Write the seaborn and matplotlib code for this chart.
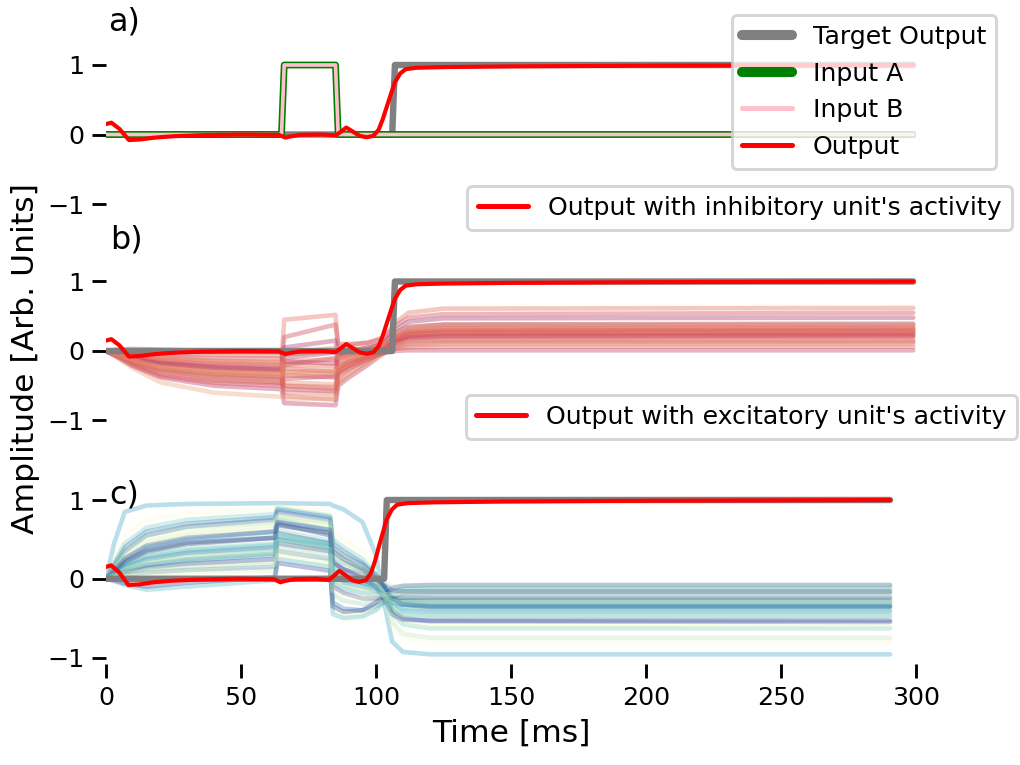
import matplotlib
matplotlib.use("Agg")
import matplotlib.pyplot as plt
import seaborn as sns
import pandas as pd
from matplotlib.lines import Line2D

# ------------------------------------------------------------------ data
# time grids (ms, read against the shared time axis)
time_ab = [0, 4, 10, 20, 40, 65, 66, 85, 86, 90, 97, 103, 107, 112, 125, 299]
time_c = [0, 3, 7, 15, 30, 62.5, 63.5, 83, 84, 88, 95, 100, 103, 106, 110, 120, 290.4]

# network output (same trial, shown in every panel)
out_t_ab = [0, 2, 5, 8.5, 13, 18, 25, 35, 50, 64, 66.5, 68, 72, 80, 85, 87, 89, 91.5, 94,
            96.5, 99, 101, 102.5, 104, 105.5, 107, 109, 111, 115, 125, 150, 200, 299]
out_t_c = [0, 1.9, 4.9, 8.3, 12.6, 17.5, 24.3, 34.0, 48.6, 62.2, 64.6, 66.0, 69.9, 77.7, 82.6,
           84.5, 86.4, 88.9, 91.3, 93.7, 96.2, 98.1, 99.6, 101.0, 102.5, 103.9, 105.9, 107.8,
           111.7, 121.4, 145.7, 194.2, 290.4]
out_v = [0.15, 0.17, 0.08, -0.08, -0.07, -0.045, -0.025, -0.01, 0.0, -0.005, -0.045, -0.03,
         -0.005, 0.0, -0.015, 0.04, 0.10, 0.04, -0.02, -0.04, -0.02, 0.07, 0.22, 0.40, 0.58,
         0.75, 0.88, 0.94, 0.96, 0.97, 0.98, 0.99, 1.0]

# target output
target_t_ab = [0, 106, 107, 299]
target_t_c = [0, 103, 104, 290.4]
target_v = [0, 0, 1, 1]

# inputs
input_t = [0, 65, 66, 85, 86, 299]
input_a = [0, 0, 1, 1, 0, 0]
input_b = [0, 0, 1, 1, 0, 0]

# inhibitory unit activities (values at time_ab)
inhib_units = [
    [0, -0.02, -0.06, -0.10, -0.14, -0.16, 0.45, 0.52, 0.05, 0.08, 0.12, 0.20, 0.40, 0.55, 0.61, 0.62],
    [0, -0.03, -0.08, -0.14, -0.19, -0.22, 0.20, 0.38, 0.10, 0.10, 0.12, 0.18, 0.36, 0.48, 0.53, 0.55],
    [0, -0.05, -0.13, -0.22, -0.30, -0.34, -0.10, -0.02, -0.10, -0.05, 0.02, 0.12, 0.30, 0.42, 0.47, 0.48],
    [0, -0.04, -0.10, -0.17, -0.24, -0.28, -0.50, -0.55, -0.30, -0.20, -0.08, 0.05, 0.22, 0.33, 0.38, 0.40],
    [0, -0.06, -0.17, -0.30, -0.40, -0.45, -0.65, -0.70, -0.45, -0.32, -0.15, 0.02, 0.18, 0.28, 0.32, 0.33],
    [0, -0.08, -0.22, -0.38, -0.50, -0.55, -0.75, -0.78, -0.50, -0.38, -0.20, -0.02, 0.12, 0.22, 0.26, 0.27],
    [0, -0.05, -0.14, -0.25, -0.33, -0.38, -0.30, -0.28, -0.20, -0.12, -0.02, 0.08, 0.22, 0.30, 0.33, 0.34],
    [0, -0.03, -0.08, -0.13, -0.17, -0.19, -0.05, 0.00, -0.05, 0.00, 0.05, 0.10, 0.20, 0.26, 0.29, 0.30],
    [0, -0.07, -0.19, -0.33, -0.43, -0.47, -0.40, -0.36, -0.30, -0.22, -0.10, 0.00, 0.10, 0.17, 0.20, 0.21],
    [0, -0.09, -0.25, -0.45, -0.60, -0.66, -0.70, -0.68, -0.45, -0.35, -0.18, -0.04, 0.08, 0.14, 0.16, 0.16],
    [0, -0.04, -0.11, -0.19, -0.26, -0.29, -0.15, -0.12, -0.15, -0.08, 0.00, 0.07, 0.15, 0.22, 0.25, 0.25],
    [0, -0.02, -0.05, -0.08, -0.10, -0.11, -0.25, -0.30, -0.12, -0.06, 0.00, 0.05, 0.12, 0.18, 0.20, 0.20],
    [0, -0.06, -0.16, -0.28, -0.37, -0.41, -0.55, -0.58, -0.35, -0.25, -0.12, -0.02, 0.06, 0.11, 0.13, 0.13],
    [0, -0.05, -0.12, -0.21, -0.28, -0.31, -0.45, -0.48, -0.28, -0.20, -0.10, -0.01, 0.04, 0.08, 0.10, 0.10],
    [0, -0.01, -0.03, -0.05, -0.06, -0.07, -0.20, -0.22, -0.08, -0.05, -0.02, 0.01, 0.03, 0.05, 0.06, 0.06],
    [0, -0.03, -0.09, -0.16, -0.22, -0.25, -0.35, -0.38, -0.22, -0.15, -0.08, -0.03, 0.00, 0.01, 0.01, 0.01],
    [0, -0.07, -0.18, -0.31, -0.40, -0.44, -0.35, -0.30, -0.25, -0.16, -0.06, 0.05, 0.18, 0.26, 0.29, 0.30],
    [0, -0.05, -0.14, -0.24, -0.32, -0.36, -0.60, -0.62, -0.38, -0.26, -0.12, 0.00, 0.15, 0.24, 0.27, 0.28],
    [0, -0.08, -0.21, -0.36, -0.46, -0.50, -0.20, -0.10, -0.25, -0.15, -0.05, 0.06, 0.20, 0.28, 0.31, 0.32],
    [0, -0.04, -0.10, -0.18, -0.24, -0.27, 0.05, 0.15, -0.05, 0.00, 0.05, 0.12, 0.26, 0.35, 0.38, 0.38],
    [0, -0.02, -0.06, -0.11, -0.15, -0.17, -0.30, -0.33, -0.18, -0.10, -0.04, 0.03, 0.10, 0.14, 0.15, 0.15],
    [0, -0.06, -0.15, -0.26, -0.34, -0.38, -0.50, -0.52, -0.30, -0.20, -0.08, 0.03, 0.16, 0.24, 0.26, 0.26],
    [0, 0.02, 0.03, 0.02, 0.00, -0.01, -0.15, -0.18, -0.05, -0.02, 0.02, 0.06, 0.14, 0.20, 0.22, 0.23],
    [0, -0.05, -0.13, -0.23, -0.31, -0.35, -0.05, 0.05, -0.10, -0.05, 0.02, 0.10, 0.25, 0.34, 0.36, 0.37],
]

# excitatory unit activities (values at time_c)
excit_units = [
    [0, 0.45, 0.85, 0.93, 0.95, 0.96, 0.96, 0.95, 0.93, 0.88, 0.72, 0.30, -0.30, -0.80, -0.93, -0.96, -0.96],
    [0, 0.25, 0.55, 0.75, 0.83, 0.88, 0.92, 0.85, 0.60, 0.50, 0.35, 0.10, -0.20, -0.60, -0.75, -0.80, -0.80],
    [0, 0.20, 0.45, 0.65, 0.75, 0.82, 0.90, 0.80, 0.50, 0.40, 0.25, 0.05, -0.15, -0.45, -0.58, -0.63, -0.63],
    [0, 0.15, 0.35, 0.55, 0.66, 0.75, 0.85, 0.75, 0.40, 0.30, 0.18, 0.02, -0.15, -0.40, -0.50, -0.54, -0.55],
    [0, 0.12, 0.30, 0.48, 0.58, 0.68, 0.80, 0.70, 0.35, 0.25, 0.12, 0.00, -0.12, -0.35, -0.45, -0.48, -0.48],
    [0, 0.10, 0.25, 0.40, 0.50, 0.60, 0.75, 0.62, 0.28, 0.20, 0.10, 0.00, -0.10, -0.30, -0.40, -0.42, -0.42],
    [0, 0.08, 0.20, 0.34, 0.44, 0.52, 0.70, 0.55, 0.20, 0.12, 0.05, -0.02, -0.10, -0.25, -0.33, -0.36, -0.36],
    [0, 0.07, 0.18, 0.30, 0.38, 0.45, 0.62, 0.48, 0.10, 0.05, 0.00, -0.05, -0.12, -0.25, -0.30, -0.32, -0.32],
    [0, 0.06, 0.15, 0.25, 0.33, 0.40, 0.58, 0.45, 0.05, -0.02, -0.05, -0.08, -0.15, -0.25, -0.29, -0.30, -0.30],
    [0, 0.05, 0.12, 0.21, 0.28, 0.35, 0.55, 0.42, 0.00, -0.08, -0.12, -0.15, -0.18, -0.26, -0.28, -0.29, -0.29],
    [0, 0.05, 0.10, 0.17, 0.23, 0.30, 0.50, 0.38, -0.05, -0.12, -0.18, -0.20, -0.22, -0.26, -0.27, -0.27, -0.27],
    [0, 0.04, 0.08, 0.14, 0.19, 0.25, 0.45, 0.35, -0.10, -0.18, -0.25, -0.25, -0.24, -0.24, -0.24, -0.24, -0.24],
    [0, 0.03, 0.07, 0.11, 0.15, 0.20, 0.40, 0.30, -0.20, -0.28, -0.32, -0.30, -0.28, -0.25, -0.22, -0.21, -0.21],
    [0, 0.02, 0.05, 0.08, 0.11, 0.15, 0.35, 0.25, -0.30, -0.38, -0.40, -0.35, -0.30, -0.22, -0.19, -0.18, -0.18],
    [0, 0.02, 0.03, 0.05, 0.08, 0.10, 0.30, 0.20, -0.40, -0.45, -0.45, -0.38, -0.30, -0.20, -0.16, -0.15, -0.15],
    [0, -0.03, -0.08, -0.14, -0.10, -0.02, 0.25, 0.15, -0.45, -0.50, -0.48, -0.40, -0.30, -0.18, -0.13, -0.12, -0.12],
    [0, -0.02, -0.06, -0.10, -0.05, 0.02, 0.20, 0.10, -0.35, -0.42, -0.40, -0.30, -0.22, -0.12, -0.09, -0.08, -0.08],
    [0, 0.10, 0.22, 0.36, 0.45, 0.55, 0.68, 0.58, 0.30, 0.20, 0.10, 0.00, -0.05, -0.10, -0.10, -0.10, -0.10],
    [0, 0.18, 0.40, 0.60, 0.70, 0.78, 0.88, 0.78, 0.45, 0.35, 0.20, 0.05, -0.10, -0.25, -0.32, -0.35, -0.35],
    [0, 0.12, 0.28, 0.45, 0.55, 0.63, 0.78, 0.65, 0.30, 0.20, 0.08, -0.05, -0.20, -0.40, -0.55, -0.60, -0.60],
    [0, 0.07, 0.17, 0.28, 0.36, 0.43, 0.55, 0.45, 0.15, 0.05, -0.05, -0.12, -0.25, -0.40, -0.45, -0.47, -0.47],
    [0, 0.09, 0.22, 0.36, 0.46, 0.52, 0.68, 0.58, 0.22, 0.12, 0.00, -0.10, -0.25, -0.45, -0.52, -0.53, -0.53],
    [0, 0.15, 0.35, 0.55, 0.65, 0.72, 0.80, 0.72, 0.42, 0.30, 0.15, 0.00, -0.20, -0.55, -0.70, -0.75, -0.75],
    [0, 0.04, 0.10, 0.18, 0.25, 0.32, 0.50, 0.40, 0.05, -0.05, -0.10, -0.15, -0.20, -0.30, -0.33, -0.34, -0.34],
    [0, 0.03, 0.06, 0.10, 0.14, 0.18, 0.35, 0.28, -0.15, -0.22, -0.25, -0.22, -0.20, -0.19, -0.19, -0.19, -0.19],
    [0, 0.06, 0.14, 0.24, 0.32, 0.38, 0.52, 0.42, 0.10, 0.02, -0.05, -0.10, -0.20, -0.35, -0.38, -0.40, -0.40],
    [0, 0.11, 0.26, 0.42, 0.52, 0.60, 0.72, 0.62, 0.35, 0.25, 0.12, 0.00, -0.08, -0.15, -0.16, -0.16, -0.16],
    [0, 0.05, 0.11, 0.19, 0.26, 0.33, 0.48, 0.38, 0.00, -0.10, -0.15, -0.18, -0.22, -0.28, -0.30, -0.30, -0.30],
]

panel_letters = ["a)", "b)", "c)"]
legend_a_labels = ["Target Output", "Input A", "Input B", "Output"]
legend_b_label = "Output with inhibitory unit's activity"
legend_c_label = "Output with excitatory unit's activity"
x_ticks = [0, 50, 100, 150, 200, 250, 300]
y_ticks = [-1, 0, 1]

# ------------------------------------------------------------------ style
sns.set_theme(style="ticks", context="notebook")
plt.rcParams["font.family"] = ["DejaVu Sans"]
for key in ("text.color", "axes.labelcolor", "xtick.color", "ytick.color"):
    plt.rcParams[key] = "black"

W, H, DPI = 1020, 765, 165
fig = plt.figure(figsize=(W / DPI, H / DPI), dpi=DPI)

LEFT, RIGHT = 106, 916


def px_axes(top, bottom):
    return fig.add_axes([LEFT / W, 1 - bottom / H, (RIGHT - LEFT) / W, (bottom - top) / H])


def set_ylim_px(ax, top, bottom, py_one, py_minus_one):
    scale = (py_minus_one - py_one) / 2.0
    ax.set_ylim(-1 - (bottom - py_minus_one) / scale, 1 + (py_one - top) / scale)


def long_form(times, units):
    rows = []
    for i, vals in enumerate(units):
        for t, v in zip(times, vals):
            rows.append({"time": t, "value": v, "unit": f"u{i:02d}"})
    return pd.DataFrame(rows)


def mixed_palette(base, step, offset):
    n = len(base)
    return [base[(i * step + offset) % n] for i in range(n)]


def draw_line(ax, x, y, color, lw, z=3):
    sns.lineplot(x=x, y=y, ax=ax, color=color, lw=lw, sort=False, estimator=None,
                 legend=False, zorder=z)


GRAY, RED = "#808080", "red"
LW_TARGET, LW_OUT = 2.8, 1.8

ax_a = px_axes(0, 215)
ax_b = px_axes(215, 440)
ax_c = px_axes(440, 664)
set_ylim_px(ax_a, 0, 215, 65, 204)
set_ylim_px(ax_b, 215, 440, 281.5, 420.5)
set_ylim_px(ax_c, 440, 664, 500, 657.5)

# ---- panel a
draw_line(ax_a, target_t_ab, target_v, GRAY, LW_TARGET, 2)
draw_line(ax_a, input_t, input_a, "green", 3.0, 3)
draw_line(ax_a, input_t, input_b, "pink", 1.6, 4)
draw_line(ax_a, out_t_ab, out_v, RED, LW_OUT, 5)
handles_a = [Line2D([], [], color=GRAY, lw=4.4), Line2D([], [], color="green", lw=4.4),
             Line2D([], [], color="pink", lw=2.2), Line2D([], [], color=RED, lw=2.2)]
leg_a = ax_a.legend(handles_a, legend_a_labels, loc="upper right",
                    bbox_to_anchor=(996 / W, 1 - 15 / H), bbox_transform=fig.transFigure,
                    borderaxespad=0, fontsize=11, framealpha=0.8)

# ---- panel b
df_b = long_form(time_ab, inhib_units)
n_b = len(inhib_units)
pal_b = mixed_palette(sns.color_palette("flare", int(n_b * 1.7))[:n_b], 7, 9)
sns.lineplot(data=df_b, x="time", y="value", hue="unit", palette=pal_b, ax=ax_b,
             lw=2, alpha=0.4, sort=False, estimator=None, legend=False, zorder=1)
draw_line(ax_b, target_t_ab, target_v, GRAY, LW_TARGET, 2)
draw_line(ax_b, out_t_ab, out_v, RED, LW_OUT, 5)
leg_b = ax_b.legend([Line2D([], [], color=RED, lw=2.2)], [legend_b_label], loc="upper right",
                    bbox_to_anchor=(1012 / W, 1 - 186 / H), bbox_transform=fig.transFigure,
                    borderaxespad=0, fontsize=11, framealpha=0.8)

# ---- panel c
df_c = long_form(time_c, excit_units)
pal_c = mixed_palette(sns.color_palette("YlGnBu", len(excit_units)), 11, 17)
sns.lineplot(data=df_c, x="time", y="value", hue="unit", palette=pal_c, ax=ax_c,
             lw=2, alpha=0.3, sort=False, estimator=None, legend=False, zorder=1)
draw_line(ax_c, target_t_c, target_v, GRAY, LW_TARGET, 2)
draw_line(ax_c, out_t_c, out_v, RED, LW_OUT, 5)
leg_c = ax_c.legend([Line2D([], [], color=RED, lw=2.2)], [legend_c_label], loc="upper right",
                    bbox_to_anchor=(1017 / W, 1 - 395 / H), bbox_transform=fig.transFigure,
                    borderaxespad=0, fontsize=11, framealpha=0.8)

for leg in (leg_a, leg_b, leg_c):
    leg.get_frame().set_linewidth(1.3)
    leg.set_zorder(20)

for ax in (ax_a, ax_b, ax_c):
    ax.set_xlim(0, 300)
    ax.set_yticks(y_ticks)
    ax.set_xlabel("")
    ax.set_ylabel("")
    ax.patch.set_alpha(0)
    sns.despine(ax=ax, left=True, bottom=True)
for ax in (ax_a, ax_b):
    ax.tick_params(axis="x", bottom=False, labelbottom=False)
ax_c.set_xticks(x_ticks)
ax_c.set_xlabel("Time [ms]", fontsize=13.7, labelpad=4)

fig.text(26 / W, 1 - 358 / H, "Amplitude [Arb. Units]", rotation=90, ha="center",
         va="center", fontsize=13.7)
for letter, (lx, ly) in zip(panel_letters, [(108, 22), (110, 240), (109, 495)]):
    fig.text(lx / W, 1 - ly / H, letter, ha="left", va="center", fontsize=13.9)

fig.savefig("out.png", dpi=DPI)
